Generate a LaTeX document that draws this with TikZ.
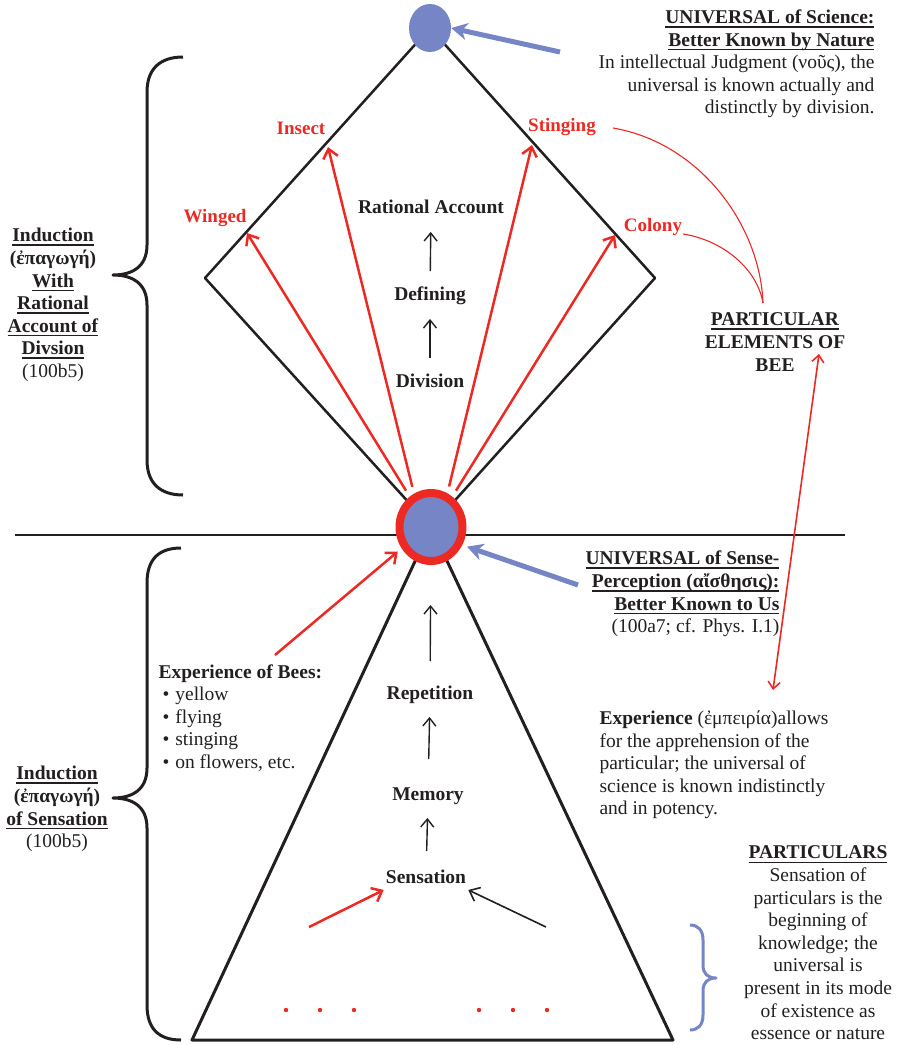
\documentclass[tikz,border=0pt]{standalone}
\usepackage{fontspec}
\setmainfont{Liberation Serif}
\usetikzlibrary{arrows.meta,shapes.geometric}
\definecolor{beered}{RGB}{237,41,36}
\definecolor{beeblue}{RGB}{117,133,197}
\definecolor{ink}{RGB}{35,31,32}
\newcommand{\undr}[1]{\setbox0\hbox{#1}\leavevmode\rlap{\vrule height -2.6pt depth 4.2pt width \wd0}\box0}
\tikzset{
  lbl/.style={font=\fontsize{19.5}{22.6}\selectfont\bfseries, text height=13.5pt, text depth=4pt, inner sep=2pt},
  redlbl/.style={font=\fontsize{19}{22}\selectfont\bfseries, text=beered},
  up/.style={-{Straight Barb[length=8pt,width=13pt]}, line width=1.4pt, shorten <=12pt, shorten >=14pt},
  redarr/.style={-{Straight Barb[length=9pt,width=15pt]}, line width=2.5pt, draw=beered},
  bluearr/.style={-{Stealth[length=16pt,width=17pt,inset=5pt]}, line width=5pt, draw=beeblue},
  link/.style={line width=1.1pt, draw=beered}
}
\begin{document}
\begin{tikzpicture}[x=1pt, y=-1pt, color=ink, line join=round, font=\fontsize{19.5}{22.6}\selectfont]
    \useasboundingbox (0,0) rectangle (900,1045);

    \coordinate (top) at (430,28);
    \coordinate (mid) at (431,527);
    \coordinate (dl) at (205,278);
    \coordinate (dr) at (655,278);
    \coordinate (bl) at (192,1040);
    \coordinate (br) at (673,1040);
    \coordinate (hl) at (15,535);
    \coordinate (hr) at (845,535);

    \draw [line width=2pt] (hl) -- (hr);
    \draw [line width=2.5pt] (top) -- (dl) -- (mid) -- (dr) -- cycle;
    \draw [line width=3pt] (mid) -- (bl) -- (br) -- cycle;

    \node [ellipse, fill=beeblue, inner sep=0pt, minimum width=42pt, minimum height=48pt] (nous) at (top) {};
    \node [ellipse, draw=beered, fill=beeblue, line width=8pt, inner sep=0pt, minimum width=63pt, minimum height=68pt] (aisth) at (mid) {};

    \draw [line width=3pt] (183,57) .. controls (160,57) and (147,69) .. (147,92) -- (147,245) .. controls (147,267) and (132,275) .. (113,275) .. controls (132,275) and (147,283) .. (147,305) -- (147,460) .. controls (147,483) and (160,495) .. (183,495);
    \draw [line width=3pt] (181,548) .. controls (158,548) and (147,560) .. (147,583) -- (147,768) .. controls (147,790) and (132,798) .. (113,798) .. controls (132,798) and (147,806) .. (147,828) -- (147,1005) .. controls (147,1028) and (158,1040) .. (181,1040);
    \draw [line width=3pt, beeblue] (690,925) .. controls (698,925) and (703,930) .. (703,940) -- (703,965) .. controls (703,974) and (708,978) .. (716,978) .. controls (708,978) and (703,982) .. (703,991) -- (703,1015) .. controls (703,1025) and (698,1030) .. (690,1030);

    \node [lbl] (ratio) at (431,209) {Rational Account};
    \node [lbl] (defin) at (430,296) {Defining};
    \node [lbl] (divis) at (430,383) {Division};
    \draw [up, shorten <=14pt, shorten >=12pt] (divis) -- (defin);
    \draw [up, shorten <=14pt, shorten >=12pt] (defin) -- (ratio);

    \node [lbl] (repet) at (430,695) {Repetition};
    \node [lbl] (memor) at (428,796) {Memory};
    \node [lbl] (sens) at (426,879) {Sensation};
    \draw [up, shorten <=17pt, shorten >=11pt] (sens) -- (memor);
    \draw [up, shorten <=26pt, shorten >=11pt] (memor) -- (repet);
    \draw [up, shorten <=23pt, shorten >=40pt] (repet) -- (aisth);

    \coordinate (wing) at (247,233);
    \coordinate (inse) at (328,147);
    \coordinate (stng) at (532,145);
    \coordinate (colo) at (615,235);
    \node [redlbl] (winglbl) at (215,218) {Winged};
    \node [redlbl] (inselbl) at (301,128) {Insect};
    \node [redlbl] (stnglbl) at (562,127) {Stinging};
    \node [redlbl] (cololbl) at (653,227) {Colony};
    \draw [redarr, shorten <=7pt] (aisth.125) -- (wing);
    \draw [redarr, shorten <=7pt] (aisth.117) -- (inse);
    \draw [redarr, shorten <=7pt] (aisth.64) -- (stng);
    \draw [redarr, shorten <=7pt] (aisth.55) -- (colo);

    \node [align=center] (elemnote) at (775,342) {\undr{\textbf{PARTICULAR}}\\\textbf{ELEMENTS OF}\\\textbf{BEE}};
    \coordinate (join) at (763,303);
    \coordinate (stngend) at (613,128);
    \coordinate (coloend) at (683,234);
    \draw [link] (stngend) .. controls (700,143) and (760,225) .. (join);
    \draw [link] (coloend) .. controls (722,240) and (757,268) .. (join);

    \coordinate (pa) at (819,354);
    \coordinate (pb) at (773,690);
    \draw [{Straight Barb[length=7pt,width=12pt]}-{Straight Barb[length=7pt,width=12pt]}, line width=1.6pt, beered] (pa) -- (pb);

    \node [anchor=east, align=right] (scinote) at (878,64) {\undr{\textbf{UNIVERSAL of Science:}}\\\undr{\textbf{Better Known by Nature}}\\In intellectual Judgment (νοῦς), the\\universal is known actually and\\distinctly by division.};
    \coordinate (ntail) at (560,52);
    \draw [bluearr] (ntail) -- (nous.east);

    \node [anchor=east, align=right] (sensnote) at (783,594) {\undr{\textbf{UNIVERSAL of Sense-}}\\\undr{\textbf{Perception (αἴσθησις):}}\\\undr{\textbf{Better Known to Us}}\\(100a7; cf. Phys. I.1)};
    \coordinate (stail) at (578,585);
    \draw [bluearr, shorten >=5pt] (stail) -- (aisth.-30);

    \node [align=center] (indup) at (53,305) {\undr{\textbf{Induction}}\\\textbf{(ἐπαγωγή)}\\\undr{\textbf{With}}\\\undr{\textbf{Rational}}\\\undr{\textbf{Account of}}\\\undr{\textbf{Divsion}}\\(100b5)};
    \node [align=center] (inddown) at (57,809) {\undr{\textbf{Induction}}\\\textbf{(ἐπαγωγή)}\\\undr{\textbf{of Sensation}}\\(100b5)};

    \node [anchor=west, align=left] (bees) at (155,718) {\textbf{Experience of Bees:}\\\hspace{4pt}\textbullet\hspace{6pt}yellow\\\hspace{4pt}\textbullet\hspace{6pt}flying\\\hspace{4pt}\textbullet\hspace{6pt}stinging\\\hspace{4pt}\textbullet\hspace{6pt}on flowers, etc.};
    \coordinate (btail) at (275,655);
    \draw [redarr, shorten >=5pt] (btail) -- (aisth.216);

    \node [anchor=west, align=left] (empnote) at (596,765) {\textbf{Experience} (ἐμπειρία)allows\\for the apprehension of the\\particular; the universal of\\science is known indistinctly\\and in potency.};

    \node [align=center] (partnote) at (818,943) {\undr{\textbf{PARTICULARS}}\\Sensation of\\particulars is the\\beginning of\\knowledge; the\\universal is\\present in its mode\\of existence as\\essence or nature};

    \coordinate (sl) at (309,927);
    \coordinate (sr) at (546,927);
    \draw [redarr] (sl) -- (sens.south west);
    \draw [-{Straight Barb[length=9pt,width=15pt]}, line width=1.6pt] (sr) -- (sens.south east);

    \foreach \x in {286,320,354,479,513,547}
        \fill [beered] (\x,1010) circle (2.2pt);
\end{tikzpicture}
\end{document}
